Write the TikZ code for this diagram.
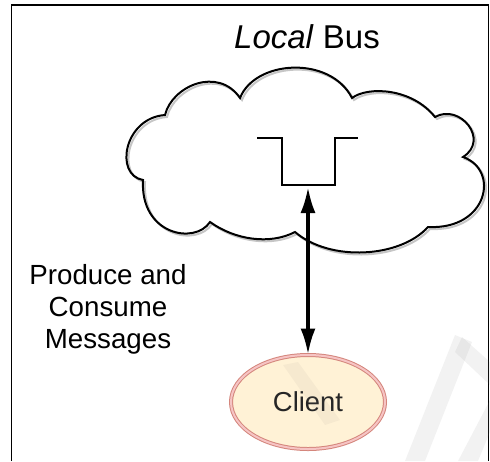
\documentclass[tikz,border=0pt]{standalone}
\usepackage{fontspec}
\setmainfont{Liberation Sans}
\usetikzlibrary{arrows.meta,shapes.geometric}

\definecolor{clientfill}{RGB}{255,242,214}
\definecolor{clientline}{RGB}{212,134,124}
\definecolor{clientpink}{RGB}{246,196,196}

\begin{document}
\begin{tikzpicture}[x=0.5pt, y=-0.5pt,
		busfont/.style={font=\fontsize{16.5}{19}\selectfont},
		msgfont/.style={font=\fontsize{13.85}{16}\selectfont},
		client/.style={ellipse, draw=clientline, line width=0.5pt, double=clientpink, double distance=1pt, fill=clientfill, minimum width=77pt, minimum height=47pt, inner sep=0pt, font=\fontsize{13.7}{16}\selectfont, text=black!85},
		both/.style={{Latex[length=13pt,width=7.5pt]}-{Latex[length=13pt,width=7.5pt]}, line width=1.75pt}]
		\useasboundingbox (0,0) rectangle (490,461);
		%draw frame
		\draw [line width=0.75pt] (11.5,461) -- (11.5,5) -- (488.5,5) -- (488.5,461);
		%draw cloud with its shadow
		\foreach \d/\c in {2/gray!45, 0/black}
		\draw [\c, line width=1pt, shift={(\d,\d)}] (143,180) .. controls (114,175) and (124,118) .. (165,115)
		.. controls (172,86) and (218,66) .. (240,98)
		.. controls (255,60) and (330,55) .. (352,98)
		.. controls (368,86) and (412,88) .. (435,117)
		.. controls (460,103) and (490,140) .. (463,157)
		.. controls (500,170) and (488,230) .. (428,227)
		.. controls (400,258) and (330,262) .. (295,232)
		.. controls (270,245) and (235,240) .. (210,222)
		.. controls (195,245) and (140,235) .. (143,180) -- cycle;
		%draw queue
		\draw [line width=1pt] (257,138) -- (282,138) -- (282,185) -- (335,185) -- (335,138) -- (358,138);
		\coordinate (queue) at (308,187);
		%draw labels
		\node [busfont, anchor=base] (bus) at (307,48) {\textit{Local} Bus};
		\node [msgfont, align=center, anchor=north, inner sep=0pt] (msgs) at (108,264) {Produce and\\Consume\\Messages};
		\node [client] (client) at (308,402) {Client};
		%draw arrows
		\draw [both] (queue) -- (client);
		%draw watermark
		\fill [gray, opacity=0.1] (455,335) -- (472,342) -- (425,461) -- (405,461) -- cycle;
		\fill [gray, opacity=0.1] (462,337) -- (490,362) -- (490,385) -- (455,352) -- cycle;
		\fill [gray, opacity=0.1] (490,400) -- (490,432) -- (478,461) -- (458,461) -- cycle;
		\fill [gray, opacity=0.07] (283,365) -- (298,362) -- (340,420) -- (325,425) -- cycle;
\end{tikzpicture}
\end{document}
